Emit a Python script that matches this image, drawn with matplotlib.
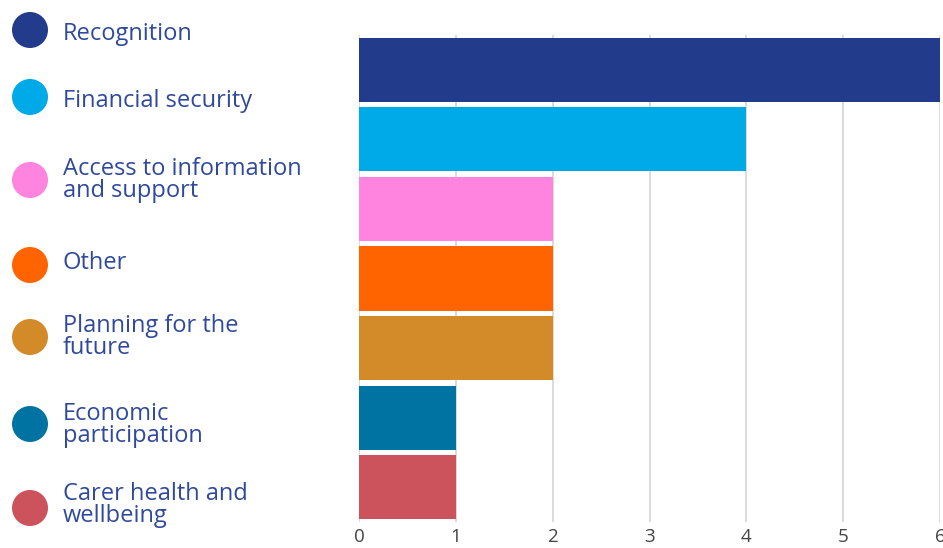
import matplotlib
matplotlib.use("Agg")
import matplotlib.pyplot as plt
from matplotlib.patches import Ellipse

categories = ["Recognition", "Financial security", "Access to information\nand support",
              "Other", "Planning for the\nfuture", "Economic\nparticipation",
              "Carer health and\nwellbeing"]
values = [6, 4, 2, 2, 2, 1, 1]
colors = ["#223C8B", "#00A9E8", "#FF84DF", "#FF6400", "#D38B2A", "#0073A3", "#CC525C"]
xticks = [0, 1, 2, 3, 4, 5, 6]

W, H = 943, 548
fig = plt.figure(figsize=(W / 100, H / 100), dpi=100)
fig.patch.set_facecolor("white")

ax = fig.add_axes([359 / W, (H - 522) / H, (940 - 359) / W, (522 - 35) / H])
ypos = list(range(len(values)))
ax.barh(ypos, values, height=0.92, color=colors, zorder=3)
ax.set_xlim(0, 6)
ax.set_ylim(len(values) - 0.5, -0.5)
ax.set_xticks(xticks)
ax.set_xticklabels([str(t) for t in xticks])
ax.set_yticks([])
ax.tick_params(axis="x", length=0, pad=4, labelsize=13.5, labelcolor="#444444")
for lab in ax.get_xticklabels():
    lab.set_family("Open Sans")
ax.grid(axis="x", color="#d4d4d4", linewidth=1.2, zorder=0)
for s in ax.spines.values():
    s.set_visible(False)

# legend (manual layout)
centers_y = [30, 97, 180, 265, 337, 424, 508]
text_y = [34, 101, 180, 263, 337, 425, 505]
r = 18
for c, cy, ty, lab in zip(colors, centers_y, text_y, categories):
    e = Ellipse((30 / W, 1 - cy / H), 2 * r / W, 2 * r / H, transform=fig.transFigure,
                facecolor=c, edgecolor="none")
    fig.patches.append(e)
    fig.text(63 / W, 1 - ty / H, lab, ha="left", va="center", fontsize=17,
             color="#2F4A9C", family="Open Sans", linespacing=0.92)

fig.savefig("out.png", dpi=100, facecolor="white")
